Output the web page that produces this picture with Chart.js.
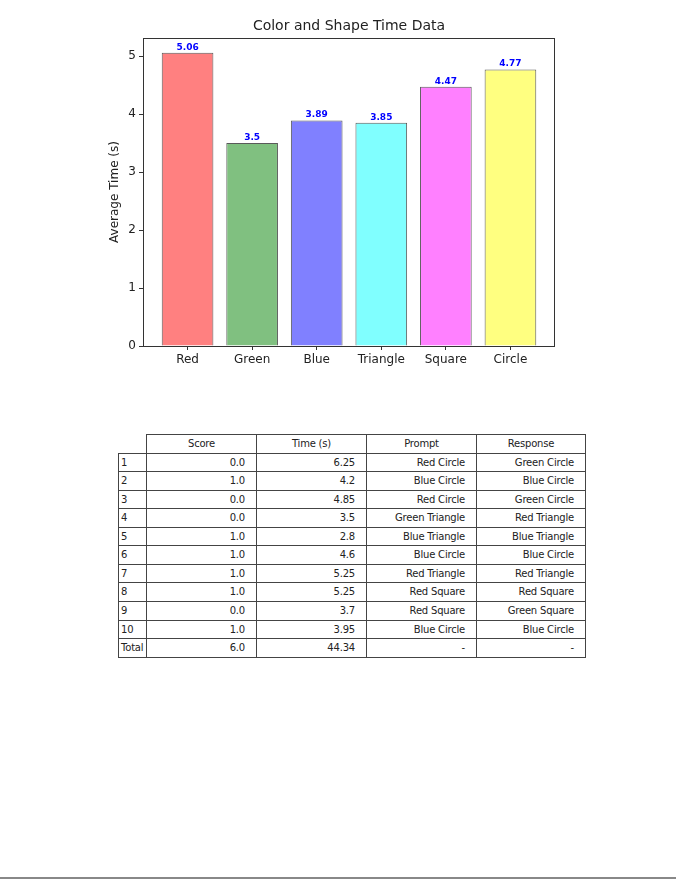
<!DOCTYPE html>
<html>
<head>
<meta charset="utf-8">
<script src="https://cdn.jsdelivr.net/npm/chart.js@4/dist/chart.umd.min.js"></script>
<style>
  html, body { margin: 0; padding: 0; background: #fff; }
  body { width: 676px; height: 879px; position: relative; overflow: hidden; font-family: "DejaVu Sans", sans-serif; }
  #chart { position: absolute; left: 0; top: 0; }
  .cell { position: absolute; box-sizing: border-box; border: 1px solid #444; font-size: 10px; color: #222; white-space: nowrap; overflow: hidden; background: #fff; letter-spacing: -0.2px; }
  #pageline { position: absolute; left: 0; top: 877px; width: 676px; height: 2px; background: #888; }
</style>
</head>
<body>
<canvas id="chart" width="676" height="380"></canvas>
<div id="table"></div>
<div id="pageline"></div>
<script>
// ---- chart data ----
const categories = ["Red", "Green", "Blue", "Triangle", "Square", "Circle"];
const avgTimes = [5.06, 3.5, 3.89, 3.85, 4.47, 4.77];
const yTicks = [0, 1, 2, 3, 4, 5];
const barFill = ["#ff8080", "#80c080", "#8080ff", "#80ffff", "#ff80ff", "#ffff80"];

// ---- table data ----
const colHeaders = ["Score", "Time (s)", "Prompt", "Response"];
const rowLabels = ["1", "2", "3", "4", "5", "6", "7", "8", "9", "10", "Total"];
const scores = ["0.0", "1.0", "0.0", "0.0", "1.0", "1.0", "1.0", "1.0", "0.0", "1.0", "6.0"];
const times = ["6.25", "4.2", "4.85", "3.5", "2.8", "4.6", "5.25", "5.25", "3.7", "3.95", "44.34"];
const prompts = ["Red Circle", "Blue Circle", "Red Circle", "Green Triangle", "Blue Triangle", "Blue Circle", "Red Triangle", "Red Square", "Red Square", "Blue Circle", "-"];
const responses = ["Green Circle", "Blue Circle", "Green Circle", "Red Triangle", "Blue Triangle", "Blue Circle", "Red Triangle", "Red Square", "Green Square", "Blue Circle", "-"];

const FONT = "DejaVu Sans";

const framePlugin = {
  id: 'frame',
  afterDatasetsDraw(chart) {
    const ctx = chart.ctx;
    const a = chart.chartArea;
    ctx.save();
    const meta = chart.getDatasetMeta(0);
    ctx.fillStyle = '#0000ff';
    ctx.font = 'bold 9px "' + FONT + '"';
    ctx.textAlign = 'center';
    ctx.textBaseline = 'bottom';
    meta.data.forEach((el, i) => {
      ctx.fillText(String(avgTimes[i]), el.x, el.y - 1);
    });
    ctx.strokeStyle = '#333';
    ctx.lineWidth = 1;
    ctx.strokeRect(Math.round(a.left) + 0.5, Math.round(a.top) + 0.5, Math.round(a.right - a.left) - 1, Math.round(a.bottom - a.top));
    ctx.fillStyle = '#222';
    ctx.font = '14px "' + FONT + '"';
    ctx.textBaseline = 'middle';
    ctx.fillText('Color and Shape Time Data', (a.left + a.right) / 2, 26);
    ctx.restore();
  }
};

new Chart(document.getElementById('chart'), {
  type: 'bar',
  data: {
    datasets: [{
      data: avgTimes.map((v, i) => ({ x: i, y: v })),
      backgroundColor: barFill,
      borderColor: '#5a5a5a',
      borderWidth: 1,
      barPercentage: 0.8,
      categoryPercentage: 1.0
    }]
  },
  options: {
    responsive: false,
    animation: false,
    devicePixelRatio: 1,
    layout: { padding: { left: 104, right: 121, top: 38, bottom: 2 } },
    plugins: { legend: { display: false }, tooltip: { enabled: false }, title: { display: false } },
    scales: {
      x: {
        type: 'linear',
        min: -0.69,
        max: 5.69,
        offset: false,
        afterBuildTicks: (s) => { s.ticks = categories.map((_, i) => ({ value: i })); },
        afterFit: (s) => { s.height = 32; },
        ticks: {
          callback: (v) => categories[v],
          color: '#222',
          font: { family: FONT, size: 12 },
          padding: 3,
          maxRotation: 0,
          autoSkip: false
        },
        grid: { offset: false, drawOnChartArea: false, drawTicks: true, tickLength: 4, color: '#333' },
        border: { display: false }
      },
      y: {
        min: 0,
        max: 5.313,
        afterBuildTicks: (s) => { s.ticks = yTicks.map(v => ({ value: v })); },
        afterFit: (s) => { s.width = 39; },
        ticks: { color: '#222', font: { family: FONT, size: 12 }, padding: 3 },
        grid: { offset: false, drawOnChartArea: false, drawTicks: true, tickLength: 4, color: '#333' },
        border: { display: false },
        title: { display: true, text: 'Average Time (s)', color: '#222', font: { family: FONT, size: 12 }, padding: { top: 4, bottom: 4 } }
      }
    }
  },
  plugins: [framePlugin]
});

// ---- table ----
(function buildTable() {
  const colX = [118, 145.5, 255.5, 365.5, 475.5, 585];
  const top = 434, rowH = 18.55;
  const host = document.getElementById('table');
  function cell(x0, x1, y0, text, align, padLeft, padRight) {
    const d = document.createElement('div');
    d.className = 'cell';
    const h = Math.round(y0 + rowH) - Math.round(y0) + 1;
    d.style.left = Math.round(x0) + 'px';
    d.style.top = Math.round(y0) + 'px';
    d.style.width = (Math.round(x1) - Math.round(x0) + 1) + 'px';
    d.style.height = h + 'px';
    d.style.lineHeight = (h - 2) + 'px';
    d.style.textAlign = align;
    d.style.paddingLeft = padLeft + 'px';
    d.style.paddingRight = padRight + 'px';
    d.textContent = text;
    host.appendChild(d);
  }
  colHeaders.forEach((h, c) => cell(colX[c + 1], colX[c + 2], top, h, 'center', 0, 0));
  const cols = [scores, times, prompts, responses];
  rowLabels.forEach((lab, r) => {
    const y = top + rowH * (r + 1);
    cell(colX[0], colX[1], y, lab, 'left', 2, 0);
    cols.forEach((arr, c) => cell(colX[c + 1], colX[c + 2], y, arr[r], 'right', 0, 11));
  });
})();
</script>
</body>
</html>
